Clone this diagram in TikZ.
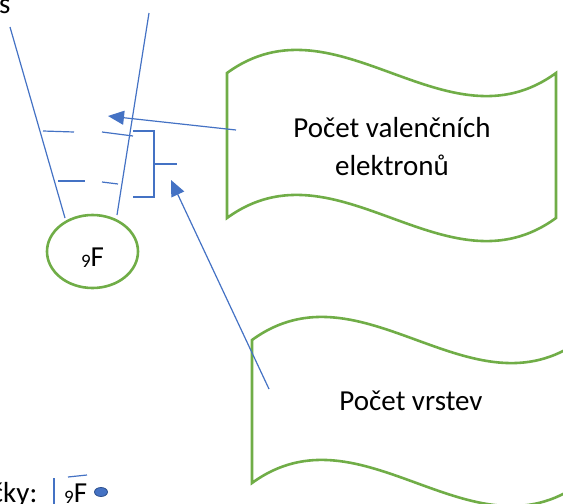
\documentclass[tikz,border=0pt]{standalone}
\usepackage{fontspec}
\setmainfont{Carlito}
\usetikzlibrary{arrows.meta,shapes.geometric}
\definecolor{oblue}{HTML}{4472C4}
\definecolor{odblue}{HTML}{2F528F}
\definecolor{ogreen}{HTML}{70AD47}
\tikzset{
  bline/.style={draw=oblue, line width=1.2pt},
  barrow/.style={bline, -{Triangle[length=16pt,width=14pt]}},
  gwave/.style={draw=ogreen, line width=2.6pt, line join=miter, fill=white},
  txt/.style={inner sep=0pt, font=\fontsize{29}{38}\selectfont},
}
\newcommand{\subnine}{{\fontsize{19}{19}\selectfont\raisebox{-1.5pt}{9}}}
\begin{document}
\begin{tikzpicture}[x=1pt,y=-1pt]
\useasboundingbox (0,0) rectangle (563,504);
\clip (0,0) rectangle (563,504);
% coordinates
\coordinate (l1a) at (10,27);
\coordinate (l1b) at (65,218);
\coordinate (l2a) at (149,13);
\coordinate (l2b) at (117,215);
\coordinate (d1a) at (43,131);  \coordinate (d1b) at (74,132);
\coordinate (d2a) at (102,132); \coordinate (d2b) at (133,136);
\coordinate (d3a) at (58,181);  \coordinate (d3b) at (85,181);
\coordinate (d4a) at (102,182); \coordinate (d4b) at (118,184);
\coordinate (bt1) at (133,131); \coordinate (bt2) at (154,131);
\coordinate (bb2) at (154,197); \coordinate (bb1) at (133,197);
\coordinate (bm1) at (154,164); \coordinate (bm2) at (177,164);
\coordinate (a1s) at (236,130); \coordinate (a1e) at (108,116);
\coordinate (a2s) at (269,389); \coordinate (a2e) at (171,180);
% top-left text
\node[txt, anchor=base west] (stxt) at (-1,13) {s};
% funnel lines
\draw[bline] (l1a) -- (l1b);
\draw[bline] (l2a) -- (l2b);
% dashes
\draw[bline] (d1a) -- (d1b);
\draw[bline] (d2a) -- (d2b);
\draw[bline] (d3a) -- (d3b);
\draw[bline] (d4a) -- (d4b);
% bracket
\draw[bline] (bt1) -- (bt2) -- (bb2) -- (bb1);
\draw[bline] (bm1) -- (bm2);
% atom ellipse
\node[ellipse, draw=ogreen, line width=2.6pt, minimum width=91pt, minimum height=73pt, inner sep=0pt] (atom) at (92.5,251.5) {};
\node[txt, anchor=base] (atomtxt) at (92.5,266) {\subnine F};
% wave box 1
\draw[gwave] (227,73) .. controls (336.7,-7) and (446.3,153) .. (556,73) -- (556,218)
  .. controls (446.3,298) and (336.7,138) .. (227,218) -- cycle;
\node[txt, align=center, anchor=base] (val1) at (392,137) {Počet valenčních};
\node[txt, align=center, anchor=base] (val2) at (392,175) {elektronů};
% wave box 2
\draw[gwave] (252,340) .. controls (361.7,260) and (471.3,420) .. (581,340) -- (581,483)
  .. controls (471.3,563) and (361.7,403) .. (252,483) -- cycle;
\node[txt, anchor=base] (vrs) at (411,410) {Počet vrstev};
% arrows
\draw[barrow] (a1s) -- (a1e);
\draw[barrow] (a2s) -- (a2e);
% bottom-left line
\node[txt, anchor=base east] (cky) at (37.5,502) {čky:};
\coordinate (vl1) at (54,478); \coordinate (vl2) at (54,506);
\draw[bline] (vl1) -- (vl2);
\coordinate (ov1) at (68,477); \coordinate (ov2) at (87,475);
\draw[bline] (ov1) -- (ov2);
\node[txt, anchor=base west] (ftxt) at (64,502) {\subnine F};
\node[ellipse, fill=oblue, draw=odblue, line width=0.8pt, minimum width=13pt, minimum height=9pt, inner sep=0pt] (dot) at (101,492) {};
\end{tikzpicture}
\end{document}
